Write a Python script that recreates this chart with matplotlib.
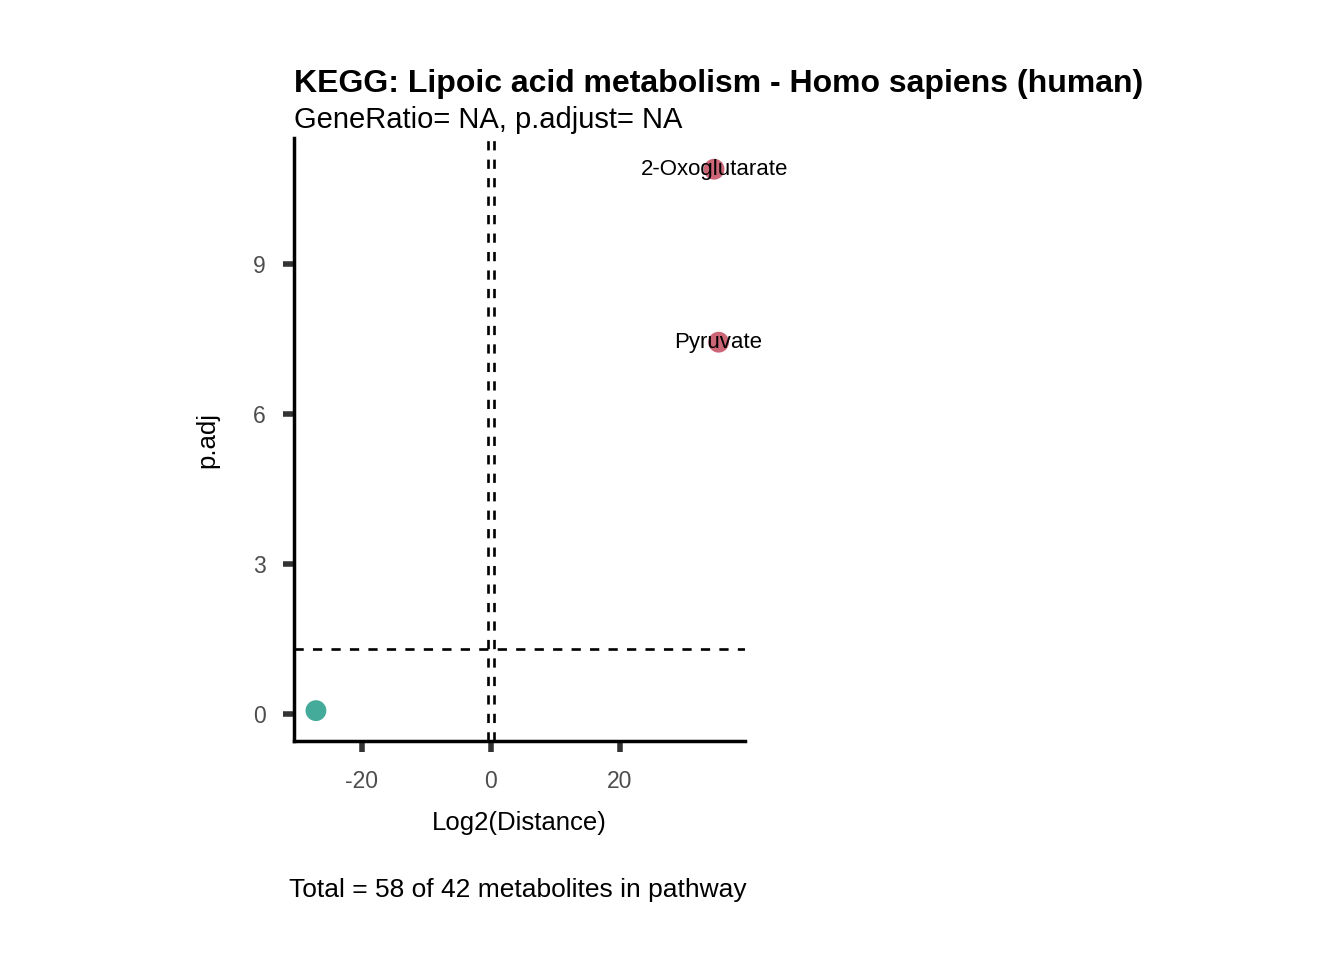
import matplotlib
matplotlib.use("Agg")
import matplotlib.pyplot as plt

plt.rcParams['font.family'] = ['Liberation Sans', 'DejaVu Sans']
plt.rcParams['axes.unicode_minus'] = False

# metabolites in the pathway
log2_dist = [-27.1, 34.6, 35.3]
p_adj = [0.07, 10.9, 7.44]
labels = ["", "2-Oxoglutarate", "Pyruvate"]
point_colors = ["#44AA99", "#CC6677", "#CC6677"]

x_ticks = [-20, 0, 20]
y_ticks = [0, 3, 6, 9]
fc_cut = [-0.5, 0.5]
p_cut = 1.301

fig = plt.figure(figsize=(13.44, 9.6), dpi=100)
ax = fig.add_axes([0.21875, 0.228, 0.3356, 0.628])

ax.scatter(log2_dist, p_adj, s=225, c=point_colors, linewidths=0, zorder=3)
for x, y, lab in zip(log2_dist, p_adj, labels):
    if lab:
        ax.text(x, y, lab, ha='center', va='center', fontsize=16, zorder=4)

for v in fc_cut:
    ax.axvline(v, color='black', ls=(0, (3.5, 3.5)), lw=1.9, zorder=2)
ax.axhline(p_cut, color='black', ls=(0, (3.5, 3.5)), lw=1.9, zorder=2)

ax.set_xlim(-30.5, 39.4)
ax.set_ylim(-0.54, 11.52)
ax.set_xticks(x_ticks)
ax.set_yticks(y_ticks)

for s in ['top', 'right']:
    ax.spines[s].set_visible(False)
for s in ['left', 'bottom']:
    ax.spines[s].set_linewidth(2.5)
    ax.spines[s].set_color('black')
ax.tick_params(axis='both', length=8, width=4, color='#333333',
               labelcolor='#4D4D4D', labelsize=16.5)
ax.tick_params(axis='x', pad=13)
ax.tick_params(axis='y', pad=12.5)

ax.set_xlabel("Log2(Distance)", fontsize=18.5, labelpad=13)
ax.set_ylabel("p.adj", fontsize=18.5, labelpad=24)

fig.text(0.21875, 0.913, "KEGG: Lipoic acid metabolism - Homo sapiens (human)",
         fontsize=23, fontweight='bold', va='center', ha='left')
fig.text(0.21875, 0.875, "GeneRatio= NA, p.adjust= NA",
         fontsize=21, va='center', ha='left')
fig.text(0.385, 0.073, "Total = 58 of 42 metabolites in pathway",
         fontsize=19, va='center', ha='center')

fig.savefig("out.png", dpi=100)
